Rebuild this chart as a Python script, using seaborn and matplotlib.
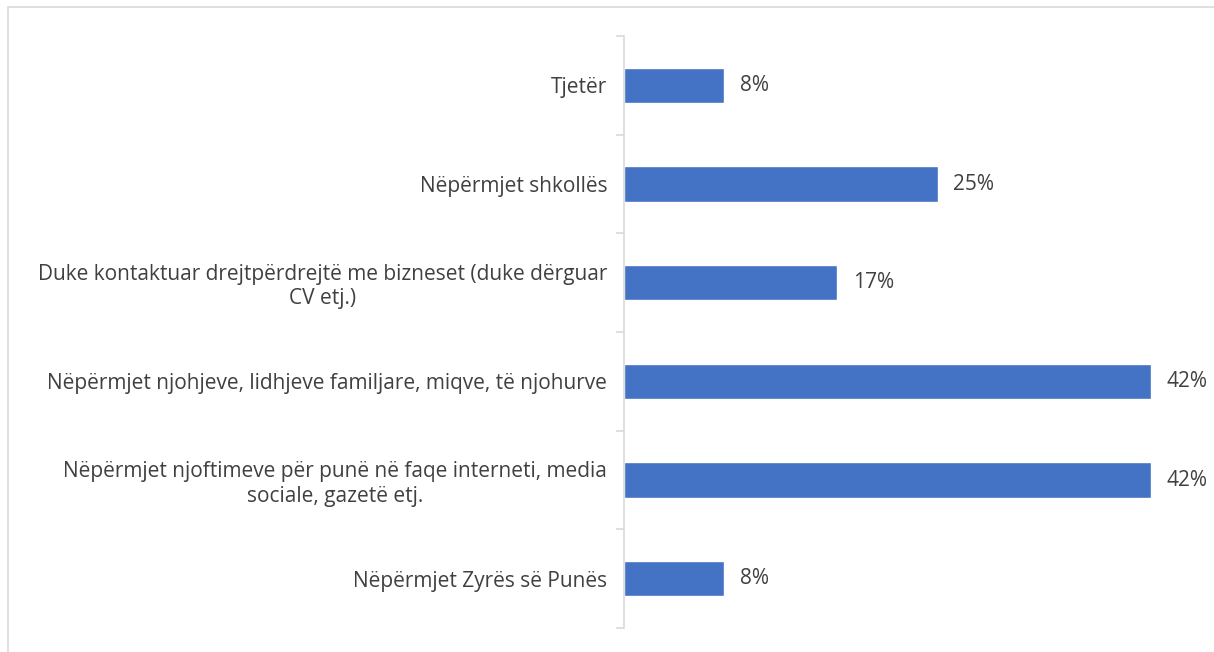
import matplotlib
matplotlib.use("Agg")
import matplotlib.pyplot as plt
from matplotlib.patches import Rectangle
import seaborn as sns
import pandas as pd

# data (top to bottom)
categories = [
    "Tjetër",
    "Nëpërmjet shkollës",
    "Duke kontaktuar drejtpërdrejtë me bizneset (duke dërguar\nCV etj.)",
    "Nëpërmjet njohjeve, lidhjeve familjare, miqve, të njohurve",
    "Nëpërmjet njoftimeve për punë në faqe interneti, media\nsociale, gazetë etj.",
    "Nëpërmjet Zyrës së Punës",
]
values = [8, 25, 17, 42, 42, 8]
value_labels = ["8%", "25%", "17%", "42%", "42%", "8%"]

df = pd.DataFrame({"category": categories, "value": values})

sns.set_style("white")
plt.rcParams["font.family"] = ["Open Sans", "DejaVu Sans"]

text_color = "#404040"
line_color = "#d9d9d9"

fig = plt.figure(figsize=(12.14, 6.52), dpi=100)
ax = fig.add_axes([624 / 1214, 1 - 628 / 652, (1200 - 624) / 1214, (628 - 36) / 652])

sns.barplot(data=df, x="value", y="category", orient="h", color="#4472C4",
            width=0.36, saturation=1, ax=ax)

ax.set_xlim(0, 42 * 576 / 527)
ax.set_ylim(5.5, -0.5)
ax.set_xlabel("")
ax.set_ylabel("")
ax.set_xticks([])

# category labels
ax.set_yticks(range(len(categories)))
ax.set_yticklabels(categories, fontsize=15, color=text_color, multialignment="center")
ax.tick_params(axis="y", which="major", left=False, length=0, pad=12)
ax.set_yticks([i - 0.5 for i in range(len(categories) + 1)], minor=True)
ax.tick_params(axis="y", which="minor", left=True, length=6, color=line_color, width=1.2)

for side in ["top", "right", "bottom"]:
    ax.spines[side].set_visible(False)
ax.spines["left"].set_color(line_color)
ax.spines["left"].set_linewidth(1.2)

ax.bar_label(ax.containers[0], labels=value_labels, padding=11,
             fontsize=15, color=text_color)

# chart area frame
fig.patches.append(Rectangle((8 / 1214, -0.1), 1.2, 1.1 - 7 / 652,
                             transform=fig.transFigure, fill=False,
                             edgecolor=line_color, linewidth=1.2))

fig.savefig("out.png", dpi=100)
